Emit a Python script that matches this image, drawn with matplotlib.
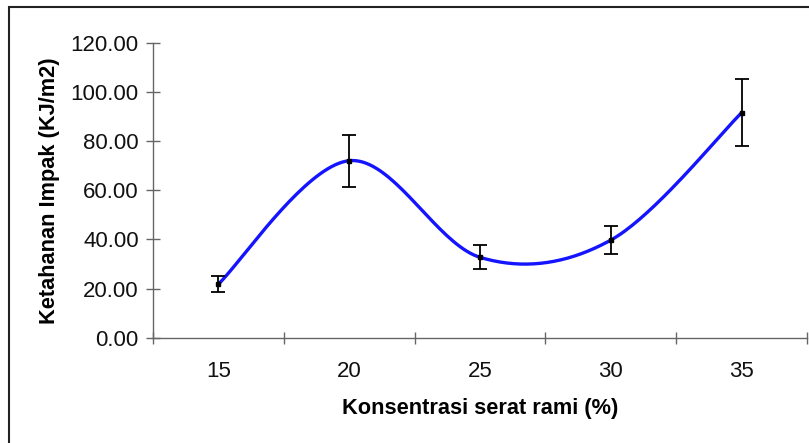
import numpy as np
import matplotlib.pyplot as plt
from matplotlib.patches import Rectangle
from matplotlib.ticker import FixedLocator, NullFormatter

plt.rcParams['font.family'] = ['Liberation Sans', 'DejaVu Sans']

# data
konsentrasi = ['15', '20', '25', '30', '35']
impak = [21.8, 72.0, 32.7, 39.7, 91.5]
galat = [3.1, 10.6, 4.9, 5.8, 13.7]


def smooth_curve(x, y, n=40):
    # Bezier spline through the points, tangents from neighbouring points
    x = np.asarray(x, float)
    y = np.asarray(y, float)
    px = np.concatenate([[x[0]], x, [x[-1]]])
    py = np.concatenate([[y[0]], y, [y[-1]]])
    xs, ys = [], []
    t = np.linspace(0, 1, n)
    for i in range(1, len(px) - 2):
        p0 = np.array([px[i], py[i]])
        p3 = np.array([px[i + 1], py[i + 1]])
        c1 = p0 + (np.array([px[i + 1], py[i + 1]]) - np.array([px[i - 1], py[i - 1]])) / 6
        c2 = p3 - (np.array([px[i + 2], py[i + 2]]) - np.array([px[i], py[i]])) / 6
        b = ((1 - t) ** 3)[:, None] * p0 + (3 * (1 - t) ** 2 * t)[:, None] * c1 \
            + (3 * (1 - t) * t ** 2)[:, None] * c2 + (t ** 3)[:, None] * p3
        xs.extend(b[:, 0])
        ys.extend(b[:, 1])
    return np.array(xs), np.array(ys)


W, H = 809, 443
fig = plt.figure(figsize=(W / 100, H / 100), dpi=100)
ax = fig.add_axes([153 / W, (H - 337.7) / H, (807 - 153) / W, (337.7 - 42.7) / H])

pos = np.arange(1, len(konsentrasi) + 1)
sx, sy = smooth_curve(pos, impak)
ax.plot(sx, sy, color='#1414ff', lw=2.4, solid_capstyle='round', zorder=2)
ax.errorbar(pos, impak, yerr=galat, fmt='s', ms=2.5, color='black', ecolor='black',
            elinewidth=1.3, capsize=4.8, capthick=1.3, zorder=3)

ax.set_xlim(0.5, len(konsentrasi) + 0.5)
ax.set_ylim(0, 120)
ax.set_yticks(np.arange(0, 121, 20))
ax.set_yticklabels([f'{v:.2f}' for v in np.arange(0, 121, 20)])
ax.set_xticks(pos)
ax.set_xticklabels(konsentrasi)
ax.xaxis.set_minor_locator(FixedLocator(np.arange(0.5, len(konsentrasi) + 1, 1)))
ax.xaxis.set_minor_formatter(NullFormatter())

axis_col = '#666666'
for s in ['top', 'right']:
    ax.spines[s].set_visible(False)
for s in ['left', 'bottom']:
    ax.spines[s].set_color(axis_col)
    ax.spines[s].set_linewidth(1.0)

ax.tick_params(axis='y', direction='inout', length=9.5, width=1.0, color=axis_col,
               labelsize=16, pad=5.5, labelcolor='#111111')
ax.tick_params(axis='x', which='major', length=0, labelsize=16, pad=16.5, labelcolor='#111111')
ax.tick_params(axis='x', which='minor', direction='inout', length=9, width=1.0, color=axis_col)

ax.set_ylabel('Ketahanan Impak (KJ/m2)', fontsize=15.7, fontweight='bold', labelpad=8)
ax.set_xlabel('Konsentrasi serat rami (%)', fontsize=15.7, fontweight='bold', labelpad=12)

# chart frame
fig.patches.append(Rectangle((9 / W, -0.1), 2, (H - 7) / H + 0.1, transform=fig.transFigure,
                             fill=False, edgecolor='#222222', lw=1.5))

fig.savefig('out.png', dpi=100)
